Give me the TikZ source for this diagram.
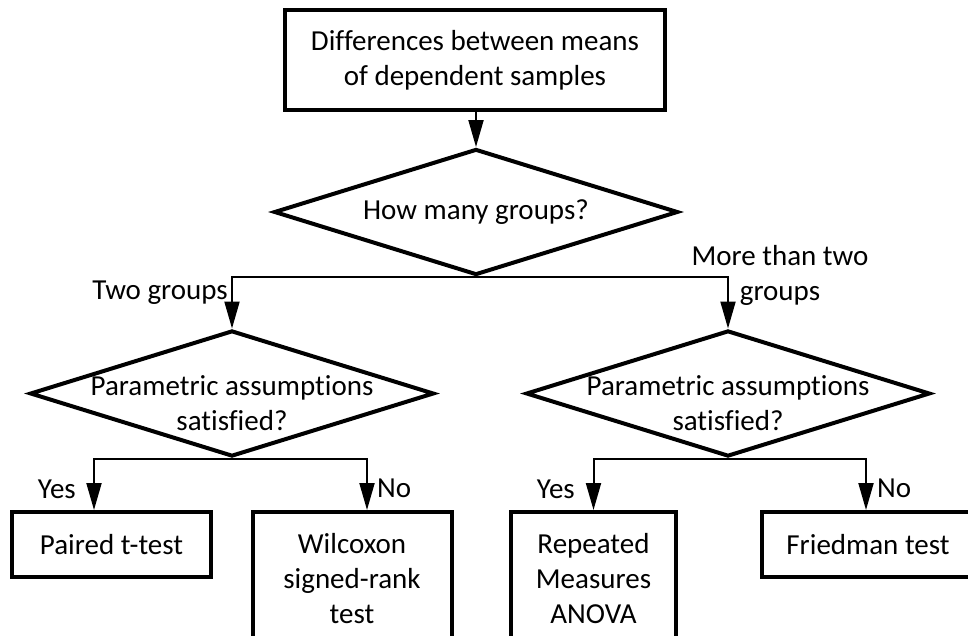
\documentclass[tikz,border=0pt]{standalone}
\usepackage{fontspec}
\setmainfont{Carlito}[Ligatures={NoCommon}]
\usetikzlibrary{shapes.geometric,arrows.meta,calc}
\begin{document}
\begin{tikzpicture}[x=1pt,y=-1pt,
  every node/.style={font=\fontsize{29}{35}\selectfont},
  box/.style={draw,line width=4pt,rectangle,inner sep=0pt,align=center},
  dia/.style={draw,line width=4pt,diamond,inner sep=0pt,minimum width=404pt,minimum height=126pt},
  conn/.style={line width=2pt,-{Triangle[length=27pt,width=15pt]}},
  lbl/.style={inner sep=0pt}]
\useasboundingbox (0,0) rectangle (968,635);
\clip (0,0) rectangle (968,635);

\node[box,minimum width=380pt,minimum height=100pt] (top) at (475,60) {Differences between means\\of dependent samples};

\node[dia] (d1) at (476,212) {};
\node (t1) at (d1) {How many groups?};

\node[dia] (d2) at (232,393.5) {};
\node[align=center] (t2) at ($(d2)+(0,10)$) {Parametric assumptions\\satisfied?};

\node[dia] (d3) at (728,393.5) {};
\node[align=center] (t3) at ($(d3)+(0,10)$) {Parametric assumptions\\satisfied?};

\node[box,minimum width=199pt,minimum height=65pt] (p1) at (111.5,544.5) {Paired t-test};
\node[box,minimum width=199pt,minimum height=134pt] (w1) at (352,579) {Wilcoxon\\signed-rank\\test};
\node[box,minimum width=165pt,minimum height=134pt] (r1) at (593.5,579) {Repeated\\Measures\\ANOVA};
\node[box,minimum width=212pt,minimum height=65pt] (f1) at (868,544.5) {Friedman test};

\draw[conn] (top.south -| d1.north) -- (d1.north);
\draw[conn] (d1.south) -| (d2.north);
\draw[conn] (d1.south) -| (d3.north);
\draw[conn] (d2.south) -| ([xshift=-17.5pt]p1.north);
\draw[conn] (d2.south) -| ([xshift=15pt]w1.north);
\draw[conn] (d3.south) -| (r1.north);
\draw[conn] (d3.south) -| ([xshift=-2pt]f1.north);

\node[lbl,anchor=base east] (l1) at (228,299) {Two groups};
\node[lbl,align=center] (l2) at (780,275) {More than two\\groups};
\node[lbl,anchor=base east] (l3) at (76,498) {Yes};
\node[lbl,anchor=base west] (l4) at (377,497) {No};
\node[lbl,anchor=base east] (l5) at (575,498) {Yes};
\node[lbl,anchor=base west] (l6) at (877,497) {No};
\end{tikzpicture}
\end{document}
